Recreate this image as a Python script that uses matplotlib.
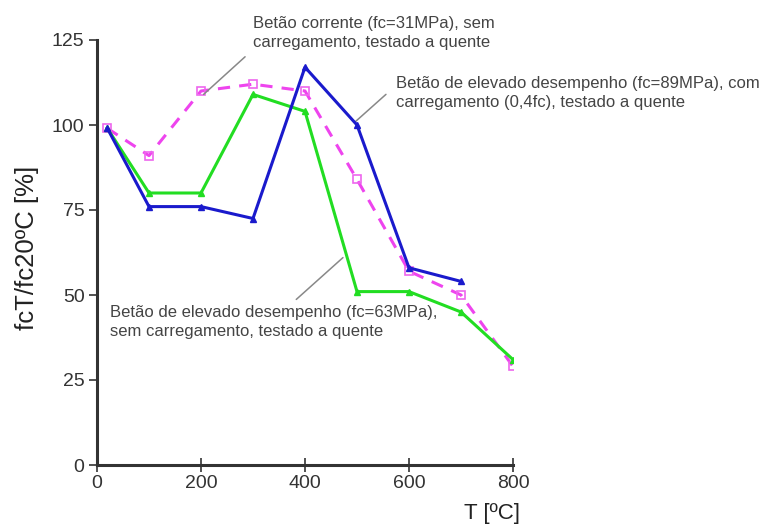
import matplotlib
matplotlib.use("Agg")
import matplotlib.pyplot as plt

plt.rcParams['font.family'] = ['Liberation Sans', 'DejaVu Sans']

temp_63 = [20, 100, 200, 300, 400, 500, 600, 700, 800]
ratio_63 = [99, 80, 80, 109, 104, 51, 51, 45, 31]

temp_89 = [20, 100, 200, 300, 400, 500, 600, 700]
ratio_89 = [99, 76, 76, 72.5, 117, 100, 58, 54]

temp_31 = [20, 100, 200, 300, 400, 500, 600, 700, 800]
ratio_31 = [99, 91, 110, 112, 110, 84, 57, 50, 29]

x_ticks = [0, 200, 400, 600, 800]
y_ticks = [0, 25, 50, 75, 100, 125]

label_31 = "Betão corrente (fc=31MPa), sem\ncarregamento, testado a quente"
label_89 = "Betão de elevado desempenho (fc=89MPa), com\ncarregamento (0,4fc), testado a quente"
label_63 = "Betão de elevado desempenho (fc=63MPa),\nsem carregamento, testado a quente"

W, H = 766, 527
fig = plt.figure(figsize=(W / 100, H / 100), dpi=100)
ax = fig.add_axes([97 / W, 1 - 465 / H, 416 / W, 425 / H])


def fpos(px, py):
    """Figure-fraction position from pixel offsets measured from the top-left."""
    return (px / W, 1 - py / H)


ax.plot(temp_31, ratio_31, color='#ee44ee', lw=2.2, ls=(0, (4, 3)),
        marker='s', ms=6, mfc='none', mec='#ee66ee', mew=1.2, zorder=2)
ax.plot(temp_63, ratio_63, color='#22dd22', lw=2.2,
        marker='^', ms=4, mfc='#22dd22', mec='#22dd22', zorder=3)
ax.plot(temp_89, ratio_89, color='#1a1acc', lw=2.2,
        marker='^', ms=4, mfc='#1a1acc', mec='#1a1acc', zorder=4)

ax.set_xlim(0, 800)
ax.set_ylim(0, 125)
ax.set_xticks(x_ticks)
ax.set_yticks(y_ticks)
for s in ['top', 'right']:
    ax.spines[s].set_visible(False)
for s in ['left', 'bottom']:
    ax.spines[s].set_color('#333333')
    ax.spines[s].set_linewidth(2.2)
ax.tick_params(axis='y', direction='out', length=6, width=1.2, colors='#333333',
               labelsize=14, pad=3)
ax.tick_params(axis='x', direction='inout', length=10, width=1.2, colors='#333333',
               labelsize=14, pad=2)

fig.text(27 / W, 1 - 248 / H, "fcT/fc20ºC [%]", rotation=90, ha='center',
         va='center', fontsize=18.5, color='#222222')
fig.text(520 / W, 1 - 513 / H, "T [ºC]", ha='right', va='center',
         fontsize=16, color='#222222')

txt_kw = dict(fontsize=12, color='#444444', linespacing=1.3,
              textcoords='figure fraction', annotation_clip=False)
line_kw = dict(arrowstyle='-', color='#888888', lw=1.1, shrinkB=0)

ax.annotate(label_31, xy=(205, 109), xytext=fpos(253, 16), va='top', ha='left',
            arrowprops=dict(relpos=(0, 0), shrinkA=5, **line_kw), **txt_kw)
ax.annotate(label_89, xy=(497, 101), xytext=fpos(396, 76), va='top', ha='left',
            arrowprops=dict(relpos=(0, 0.72), shrinkA=7, **line_kw), **txt_kw)
ax.annotate(label_63, xy=(473, 61), xytext=fpos(110, 305), va='top', ha='left',
            arrowprops=dict(relpos=(0.55, 1), shrinkA=3, **line_kw), **txt_kw)

fig.savefig("out.png", dpi=100)
